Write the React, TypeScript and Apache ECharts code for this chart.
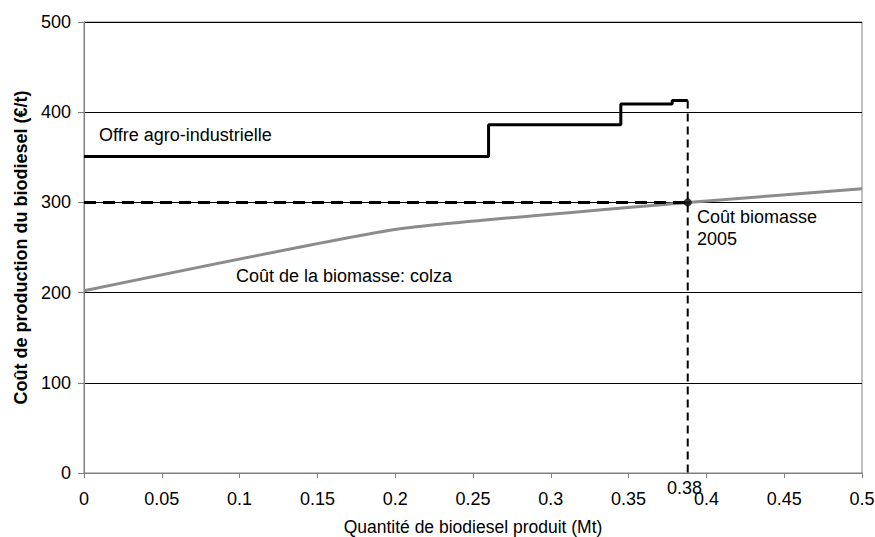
import React, { useEffect, useRef } from "react";
import * as echarts from "echarts";

const X_TICK_INTERVAL = 0.05;
const Y_TICK_INTERVAL = 100;

// Offre agro-industrielle (step curve corners)
const offreX = [0, 0.26, 0.26, 0.345, 0.345, 0.378, 0.378, 0.388];
const offreY = [351, 351, 386, 386, 409, 409, 413, 413];

// Coût de la biomasse: colza
const biomasseX = [0, 0.2, 0.388, 0.5];
const biomasseY = [202, 270, 300, 315];

// Coût biomasse 2005 reference level and equilibrium quantity
const equilibriumX = [0.388];
const equilibriumY = [300];
const offreTopY = [413];
const equilibriumLabel = ["0.38"];

const FONT = "Liberation Sans, Arial, sans-serif";

export default function App() {
  const ref = useRef<HTMLDivElement>(null);
  useEffect(() => {
    if (!ref.current) return;
    const chart = echarts.init(ref.current, null, { renderer: "svg" });
    const qx = equilibriumX[0];
    const qy = equilibriumY[0];
    chart.setOption({
      animation: false,
      backgroundColor: "#fff",
      textStyle: { fontFamily: FONT },
      grid: {
        left: 84,
        right: 13,
        top: 22,
        bottom: 64,
        outerBoundsMode: "none",
        containLabel: false,
        show: true,
        borderColor: "#808080",
        borderWidth: 1,
        backgroundColor: "transparent",
      },
      xAxis: {
        type: "value",
        min: 0,
        max: 0.5,
        interval: X_TICK_INTERVAL,
        name: "Quantité de biodiesel produit (Mt)",
        nameLocation: "middle",
        nameGap: 45,
        nameTextStyle: { fontSize: 17.5, color: "#000", fontFamily: FONT },
        axisLine: { show: true, lineStyle: { color: "#808080", width: 1 } },
        axisTick: { show: true, inside: false, length: 5, lineStyle: { color: "#808080" } },
        axisLabel: { fontSize: 18, color: "#000", margin: 17, fontFamily: FONT },
        splitLine: { show: false },
      },
      yAxis: {
        type: "value",
        min: 0,
        max: 500,
        interval: Y_TICK_INTERVAL,
        name: "Coût de production du biodiesel (€/t)",
        nameLocation: "middle",
        nameGap: 53,
        nameTextStyle: { fontSize: 18, fontWeight: "bold", color: "#000", fontFamily: FONT },
        axisLine: { show: true, lineStyle: { color: "#808080", width: 1 } },
        axisTick: { show: true, inside: false, length: 6, lineStyle: { color: "#808080" } },
        axisLabel: { fontSize: 18, color: "#000", margin: 13, fontFamily: FONT },
        splitLine: { show: true, lineStyle: { color: "#000", width: 1 } },
      },
      series: [
        {
          name: "Coût de la biomasse: colza",
          type: "line",
          data: biomasseX.map((x, i) => [x, biomasseY[i]]),
          showSymbol: false,
          smooth: 0.15,
          lineStyle: { color: "#8c8c8c", width: 3 },
          z: 2,
        },
        {
          name: "Offre agro-industrielle",
          type: "line",
          data: offreX.map((x, i) => [x, offreY[i]]),
          showSymbol: false,
          lineStyle: { color: "#000", width: 3 },
          z: 3,
        },
        {
          name: "Coût biomasse 2005",
          type: "line",
          data: [
            [0, qy],
            [qx, qy],
          ],
          showSymbol: false,
          lineStyle: { color: "#000", width: 3, type: [12, 7] },
          z: 3,
        },
        {
          name: "Quantité",
          type: "line",
          data: [
            [qx, offreTopY[0]],
            [qx, 0],
          ],
          showSymbol: false,
          lineStyle: { color: "#000", width: 2, type: [8, 5] },
          z: 3,
        },
        {
          name: "Équilibre",
          type: "scatter",
          data: [[qx, qy]],
          symbolSize: 8,
          itemStyle: { color: "#000" },
          z: 4,
        },
      ],
      graphic: [
        {
          type: "text",
          left: 99,
          top: 126,
          style: { text: "Offre agro-industrielle", fontSize: 18, fill: "#000", fontFamily: FONT },
        },
        {
          type: "text",
          left: 236,
          top: 267,
          style: { text: "Coût de la biomasse: colza", fontSize: 18, fill: "#000", fontFamily: FONT },
        },
        {
          type: "text",
          left: 697,
          top: 206,
          style: { text: "Coût biomasse\n2005", fontSize: 18, lineHeight: 22, fill: "#000", fontFamily: FONT },
        },
        {
          type: "text",
          left: 667,
          top: 479,
          style: { text: equilibriumLabel[0], fontSize: 18, fill: "#000", fontFamily: FONT },
        },
      ],
    });
    return () => chart.dispose();
  }, []);
  return (
    <div
      ref={ref}
      style={{ position: "fixed", left: 0, top: 0, width: 875, height: 537, background: "#fff" }}
    />
  );
}
